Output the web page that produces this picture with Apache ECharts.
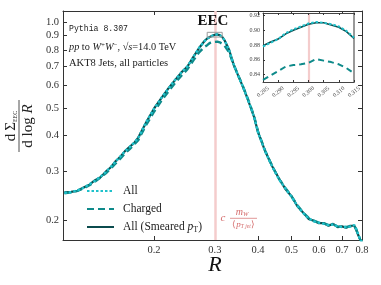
<!DOCTYPE html>
<html><head><meta charset="utf-8">
<script src="https://cdn.jsdelivr.net/npm/echarts@6/dist/echarts.min.js"></script>
<style>html,body{margin:0;padding:0;background:#fff}#c{width:381px;height:285px}</style>
</head><body><div id="c"></div>
<script>
// ---- data ----
const R = [0.110,0.115,0.120,0.125,0.130,0.135,0.140,0.145,0.150,0.155,0.160,0.165,0.170,0.175,0.180,
  0.190,0.200,0.210,0.220,0.230,0.240,0.250,0.260,0.270,0.280,
  0.285,0.290,0.295,0.300,0.302,0.305,0.310,0.315,
  0.320,0.330,0.340,0.350,0.360,0.370,0.380,0.390,0.400,
  0.420,0.440,0.460,0.480,0.500,0.520,0.540,0.560,0.580,0.600,0.620,0.640,0.660,0.680,0.700,0.720,0.740,0.760,
  0.770,0.780,0.790,0.800];
const allVals = [0.251,0.252,0.256,0.261,0.269,0.277,0.286,0.297,0.310,0.324,0.338,0.352,0.364,0.377,0.392,
  0.447,0.497,0.543,0.585,0.628,0.667,0.702,0.757,0.815,0.861,
  0.879,0.889,0.900,0.908,0.911,0.909,0.903,0.890,
  0.868,0.800,0.712,0.652,0.603,0.553,0.508,0.463,0.410,
  0.350,0.310,0.280,0.260,0.243,0.226,0.213,0.204,0.199,0.197,0.195,0.193,0.194,0.191,0.190,0.190,0.191,0.193,
  0.187,0.179,0.172,0.168];
const chargedVals = [0.250,0.252,0.255,0.260,0.267,0.275,0.284,0.294,0.306,0.319,0.332,0.346,0.358,0.371,0.385,
  0.437,0.485,0.530,0.571,0.612,0.650,0.686,0.736,0.786,0.822,
  0.833,0.848,0.853,0.856,0.862,0.858,0.853,0.843,
  0.830,0.785,0.710,0.655,0.605,0.556,0.511,0.466,0.413,
  0.352,0.311,0.281,0.261,0.244,0.227,0.214,0.205,0.200,0.197,0.196,0.193,0.194,0.191,0.190,0.190,0.191,0.192,
  0.186,0.178,0.172,0.168];
const smearedVals = [0.252,0.253,0.255,0.262,0.268,0.278,0.285,0.298,0.309,0.325,0.337,0.353,0.365,0.376,0.393,
  0.446,0.498,0.542,0.586,0.627,0.668,0.701,0.758,0.814,0.862,
  0.880,0.890,0.899,0.907,0.910,0.909,0.904,0.891,
  0.867,0.801,0.711,0.653,0.602,0.554,0.507,0.463,0.411,
  0.351,0.311,0.282,0.259,0.244,0.225,0.214,0.203,0.200,0.196,0.196,0.192,0.195,0.190,0.191,0.189,0.192,0.192,
  0.186,0.178,0.172,0.168];
const insetR = [0.2850,0.2875,0.2900,0.2925,0.2950,0.2975,0.3000,0.3025,0.3050,0.3075,0.3100,0.3125,0.3150];
const insetAll = [0.878,0.883,0.888,0.896,0.901,0.905,0.909,0.911,0.910,0.908,0.905,0.899,0.890];
const insetSmeared = [0.879,0.884,0.888,0.895,0.900,0.904,0.908,0.910,0.910,0.907,0.904,0.898,0.889];
const insetCharged = [0.833,0.839,0.845,0.851,0.853,0.854,0.856,0.861,0.859,0.857,0.854,0.849,0.842];
const xTicks = [0.2,0.3,0.4,0.5,0.6,0.7,0.8];
const yTicks = [0.2,0.3,0.4,0.5,0.6,0.7,0.8,0.9,1.0];
const insetXTicks = [0.285,0.290,0.295,0.300,0.305,0.310,0.315];
const insetYTicks = [0.84,0.86,0.88,0.90,0.92];
const peakR = 0.302;
const zoomBoxR = [0.285,0.315];
const zoomBoxV = [0.89,0.925];
const seriesNames = ['All','Charged','All (Smeared pT)'];

// ---- styles ----
const serif = '"Liberation Serif", "DejaVu Serif", serif';
const cAll = '#1fc1cb', cCh = '#0e8a8a', cSm = '#0b4b4d', cRed = '#f4cccc', cRedTxt = '#d46a6a';
const pairs = (xs, ys) => xs.map((x,i)=>[x, ys[i]]);

function ax(base, opts){ return Object.assign({
  axisLine:{show:true,onZero:false,lineStyle:{color:'#333',width:1}},
  splitLine:{show:false}, minorTick:{show:false}, minorSplitLine:{show:false}}, base, opts); }

const mainX = {type:'log', gridIndex:0, min:0.109, max:0.8};
const mainY = {type:'log', gridIndex:0, min:0.171, max:1.1};
const inX = {type:'value', gridIndex:1, min:0.285, max:0.315, scale:true};
const inY = {type:'value', gridIndex:1, min:0.8302, max:0.9231, scale:true};

const tickStyle = (vals,len)=>({show:true, inside:true, length:len, customValues:vals, lineStyle:{color:'#333',width:1}});

const option = {
  animation:false,
  grid:[
    {left:63, top:11, width:299, height:229},
    {left:263, top:13, width:91, height:69, show:true, backgroundColor:'#fff', borderWidth:0, z:5}
  ],
  xAxis:[
    ax(mainX,{position:'bottom', axisTick:tickStyle(xTicks,4),
      axisLabel:{customValues:xTicks, formatter:v=>(+v).toFixed(1), fontFamily:serif, fontSize:10.5, color:'#333', margin:5}}),
    ax(mainX,{position:'top', axisTick:tickStyle(xTicks,4), axisLabel:{show:false}}),
    ax(inX,{position:'bottom', z:6, axisLine:{show:true,onZero:false,lineStyle:{color:'#444',width:1}}, axisTick:tickStyle(insetXTicks,2),
      axisLabel:{customValues:insetXTicks, formatter:v=>(+v).toFixed(3), rotate:40, align:'center', verticalAlign:'middle', fontFamily:serif, fontSize:6, color:'#444', margin:10}}),
    ax(inX,{position:'top', z:6, axisLine:{show:true,onZero:false,lineStyle:{color:'#444',width:1}}, axisTick:tickStyle(insetXTicks,2), axisLabel:{show:false}})
  ],
  yAxis:[
    ax(mainY,{position:'left', axisTick:tickStyle(yTicks,4),
      axisLabel:{customValues:yTicks, formatter:v=>(+v).toFixed(1), fontFamily:serif, fontSize:10.5, color:'#333', margin:4}}),
    ax(mainY,{position:'right', axisTick:tickStyle(yTicks,4), axisLabel:{show:false}}),
    ax(inY,{position:'left', z:6, axisLine:{show:true,onZero:false,lineStyle:{color:'#444',width:1}}, axisTick:tickStyle(insetYTicks,2),
      axisLabel:{customValues:insetYTicks, formatter:v=>(+v).toFixed(2), fontFamily:serif, fontSize:6, color:'#444', margin:3}}),
    ax(inY,{position:'right', z:6, axisLine:{show:true,onZero:false,lineStyle:{color:'#999',width:2}}, axisTick:{show:false}, axisLabel:{show:false}})
  ],
  legend:{
    left:81, top:180, orient:'vertical', itemWidth:27, itemHeight:12, itemGap:6,
    data:seriesNames,
    itemStyle:{opacity:0},
    textStyle:{fontFamily:serif, fontSize:11.5, color:'#222', padding:[0,0,0,4],
      rich:{it:{fontFamily:serif, fontStyle:'italic', fontSize:11.5, color:'#222'}, sub:{fontFamily:serif, fontSize:8, color:'#222', padding:[6,0,0,0]}}},
    formatter: n => n === seriesNames[2] ? 'All (Smeared {it|p}{sub|T})' : n
  },
  series:[
    {type:'line', name:'_ref', xAxisIndex:0, yAxisIndex:0, data:[], z:1, silent:true,
      markLine:{silent:true, z:1, symbol:'none', label:{show:false}, emphasis:{disabled:true}, data:[{xAxis:peakR}], lineStyle:{color:cRed, width:2.5, type:'solid', opacity:1}}},
    {type:'line', name:seriesNames[2], xAxisIndex:0, yAxisIndex:0, data:pairs(R,smearedVals), symbol:'none', showSymbol:false, z:2,
      lineStyle:{color:cSm, width:2.2, type:'solid'}, itemStyle:{color:cSm}},
    {type:'line', name:seriesNames[1], xAxisIndex:0, yAxisIndex:0, data:pairs(R,chargedVals), symbol:'none', showSymbol:false, z:3,
      lineStyle:{color:cCh, width:2.4, type:[7,4]}, itemStyle:{color:cCh}},
    {type:'line', name:seriesNames[0], xAxisIndex:0, yAxisIndex:0, data:pairs(R,allVals), symbol:'none', showSymbol:false, z:4,
      lineStyle:{color:cAll, width:2.4, type:[2.5,2]}, itemStyle:{color:cAll}},
    {type:'line', name:'_box', xAxisIndex:0, yAxisIndex:0, data:[], z:5, silent:true,
      markArea:{silent:true, z:6, itemStyle:{color:'rgba(0,0,0,0)', borderColor:'#999', borderWidth:1},
        data:[[{xAxis:zoomBoxR[0], yAxis:zoomBoxV[1]},{xAxis:zoomBoxR[1], yAxis:zoomBoxV[0]}]]}},
    {type:'line', name:'_iref', xAxisIndex:2, yAxisIndex:2, data:[], z:6, silent:true,
      markLine:{silent:true, z:6, symbol:'none', label:{show:false}, emphasis:{disabled:true}, data:[{xAxis:peakR}], lineStyle:{color:cRed, width:2.2, type:'solid', opacity:1}}},
    {type:'line', name:'_iSm', xAxisIndex:2, yAxisIndex:2, data:pairs(insetR,insetSmeared), symbol:'none', z:7,
      lineStyle:{color:cSm, width:1.6, type:'solid'}},
    {type:'line', name:'_iCh', xAxisIndex:2, yAxisIndex:2, data:pairs(insetR,insetCharged), symbol:'none', z:8,
      lineStyle:{color:cCh, width:2, type:[6,4]}},
    {type:'line', name:'_iAll', xAxisIndex:2, yAxisIndex:2, data:pairs(insetR,insetAll), symbol:'none', z:9,
      lineStyle:{color:cAll, width:2, type:[2.5,2]}}
  ],
  graphic:[
    {type:'text', x:213, y:21, z:20, style:{text:'EEC', font:'bold 15px "Liberation Serif"', fill:'#111', align:'center', verticalAlign:'middle'}},
    {type:'text', x:69, y:29, z:20, style:{text:'Pythia 8.307', font:'8.2px "Liberation Mono"', fill:'#222', align:'left', verticalAlign:'middle'}},
    {type:'text', x:69, y:47, z:20, style:{text:'{i|pp} to {i|W}{s|+}{i|W}{s|−}, √{i|s}=14.0 TeV', font:'10.3px "Liberation Serif"', fill:'#222', align:'left', verticalAlign:'middle',
      rich:{i:{font:'italic 10.3px "Liberation Serif"', fill:'#222'}, s:{font:'7px "Liberation Serif"', fill:'#222', verticalAlign:'top', padding:[0,0,4,0]}}}},
    {type:'text', x:69, y:63.5, z:20, style:{text:'AKT8 Jets, all particles', font:'10.5px "Liberation Serif"', fill:'#222', align:'left', verticalAlign:'middle'}},
    {type:'group', x:19, y:126, rotation:Math.PI/2, z:20, children:[
      {type:'text', x:0, y:-8, style:{text:'d\u2009Σ{s|EEC}', font:'15px "Liberation Serif"', fill:'#222', align:'center', verticalAlign:'middle',
        rich:{s:{font:'6px "Liberation Serif"', fill:'#222', verticalAlign:'bottom', padding:[7,0,0,0]}}}},
      {type:'line', shape:{x1:-26,y1:0,x2:26,y2:0}, style:{stroke:'#222', lineWidth:0.8}},
      {type:'text', x:0, y:9, style:{text:'d log {i|R}', font:'15px "Liberation Serif"', fill:'#222', align:'center', verticalAlign:'middle',
        rich:{i:{font:'italic 15px "Liberation Serif"', fill:'#222'}}}}
    ]},
    {type:'text', x:215, y:265, z:20, style:{text:'R', font:'italic 22px "Liberation Serif"', fill:'#111', align:'center', verticalAlign:'middle'}},
    {type:'text', x:223, y:218, z:20, style:{text:'c', font:'italic 11px "Liberation Serif"', fill:cRedTxt, align:'center', verticalAlign:'middle'}},
    {type:'text', x:242, y:212, z:20, style:{text:'{i|m}{s|W}', font:'10px "Liberation Serif"', fill:cRedTxt, align:'center', verticalAlign:'middle',
      rich:{i:{font:'italic 10px "Liberation Serif"', fill:cRedTxt}, s:{font:'italic 6.5px "Liberation Serif"', fill:cRedTxt, verticalAlign:'bottom', padding:[4,0,0,0]}}}},
    {type:'line', z:20, shape:{x1:230,y1:218.3,x2:257,y2:218.3}, style:{stroke:cRedTxt, lineWidth:0.7}},
    {type:'text', x:243.5, y:224.5, z:20, style:{text:'⟨{i|p}{s|T jet}⟩', font:'9px "Liberation Serif"', fill:cRedTxt, align:'center', verticalAlign:'middle',
      rich:{i:{font:'italic 9px "Liberation Serif"', fill:cRedTxt}, s:{font:'italic 5.5px "Liberation Serif"', fill:cRedTxt, verticalAlign:'bottom', padding:[4,0,0,0]}}}}
  ]
};
const chart = echarts.init(document.getElementById('c'), null, {renderer:'canvas'});
chart.setOption(option);
</script>
</body></html>
